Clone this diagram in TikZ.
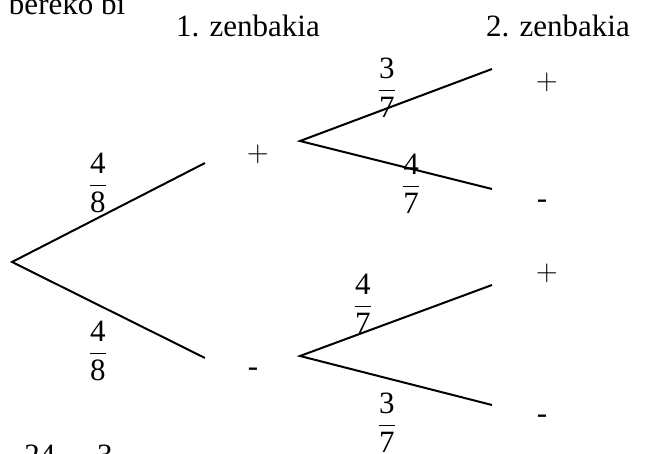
\documentclass[tikz,border=0pt]{standalone}
\usepackage{amsmath}
\usepackage{fontspec}
\setmainfont{Liberation Serif}
\usepackage{tikz}

\newcommand{\zatia}[2]{$\dfrac{\text{#1}}{\text{#2}}$}

\begin{document}
\begin{tikzpicture}[x=0.5pt,y=-0.5pt,line width=1pt,
        font=\fontsize{15.5}{18}\selectfont,
        zeinu/.style={anchor=base west,inner sep=0pt},
        zat/.style={inner sep=0pt}]
        \useasboundingbox (0,0) rectangle (645,454);
        % Goiburuak (goian moztuta dagoen testua barne)
        \node[anchor=base west,inner sep=0pt] (testua) at (8,15) {bereko bi};
        \node[anchor=base] (zenb1) at (248,37) {1. zenbakia};
        \node[anchor=base] (zenb2) at (558,37) {2. zenbakia};
        % Adarren puntuak
        \coordinate (h0) at (12,262);
        \coordinate (hp) at (205,163);
        \coordinate (hm) at (205,358);
        \coordinate (gp) at (300,141);
        \coordinate (gpp) at (492,69);
        \coordinate (gpm) at (492,189);
        \coordinate (gm) at (300,356);
        \coordinate (gmp) at (492,285);
        \coordinate (gmm) at (492,405);
        % Emaitzak
        \node[zeinu] (p1) at (246,162) {$+$};
        \node[zeinu] (m1) at (247,377) {-};
        \node[zeinu] (pp) at (535,90) {$+$};
        \node[zeinu] (pm) at (536,209) {-};
        \node[zeinu] (mp) at (535,281) {$+$};
        \node[zeinu] (mm) at (536,424) {-};
        % Probabilitateak
        \node[zat] (f1) at (98,183) {\zatia{4}{8}};
        \node[zat] (f2) at (98,351) {\zatia{4}{8}};
        \node[zat] (f3) at (387,88) {\zatia{3}{7}};
        \node[zat] (f4) at (411,184) {\zatia{4}{7}};
        \node[zat] (f5) at (363,304) {\zatia{4}{7}};
        \node[zat] (f6) at (387,423) {\zatia{3}{7}};
        % Zuhaitza
        \draw (hp) -- (h0) -- (hm);
        \draw (gpp) -- (gp) -- (gpm);
        \draw (gmp) -- (gm) -- (gmm);
        % Behean moztuta
        \node[anchor=base,inner sep=0pt] (b1) at (40,466) {24};
        \node[anchor=base,inner sep=0pt] (b2) at (105,466) {3};
    \end{tikzpicture}
\end{document}
